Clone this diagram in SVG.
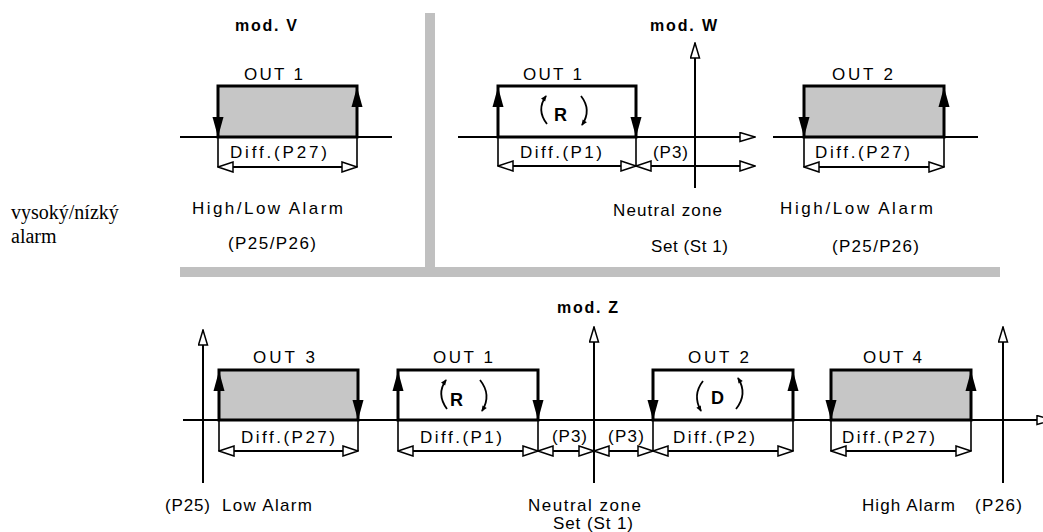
<svg xmlns="http://www.w3.org/2000/svg" width="1043" height="532" viewBox="0 0 1043 532">
<style>
.t{font-family:"Liberation Sans",Arial,sans-serif;font-size:17px;fill:#000}
.m{font-family:"Liberation Sans",Arial,sans-serif;font-weight:bold;font-size:16px;fill:#000}
.rd{font-family:"Liberation Sans",Arial,sans-serif;font-weight:bold;font-size:18px;fill:#000}
.s{font-family:"Liberation Serif","Times New Roman",serif;font-size:20px;fill:#000}
.box{stroke:#000;stroke-width:3}
.g{fill:#c6c6c6}
.w{fill:#fff}
.ax{stroke:#000;stroke-width:2;fill:none}
.axa{stroke:#000;stroke-width:2;fill:none;marker-end:url(#hx)}
.thin{stroke:#000;stroke-width:1.6}
.dim{stroke:#000;stroke-width:2;marker-start:url(#ha);marker-end:url(#ha)}
.fa{fill:#000}
.sep{fill:#c0c0c0}
.cv{stroke:#000;stroke-width:1.8;fill:none;marker-end:url(#ca)}
</style>
<defs>
<marker id="ha" markerUnits="userSpaceOnUse" markerWidth="17" markerHeight="12" viewBox="-1 -1 17 12" refX="15" refY="5" orient="auto-start-reverse"><path d="M0,0 L15,5 L0,10 Z" fill="#fff" stroke="#000" stroke-width="1.5"/></marker>
<marker id="hx" markerUnits="userSpaceOnUse" markerWidth="17" markerHeight="11" viewBox="-1 -1 17 11" refX="15" refY="4.5" orient="auto"><path d="M0,0 L15,4.5 L0,9 Z" fill="#fff" stroke="#000" stroke-width="1.5"/></marker>
<marker id="ca" markerUnits="userSpaceOnUse" markerWidth="8" markerHeight="7" viewBox="-1 -1 8 7" refX="5" refY="2.5" orient="auto"><path d="M0,0 L6,2.5 L0,5 Z" fill="#000"/></marker>
</defs>

<g id="separators">
<rect class="sep" x="425" y="13" width="10" height="264"/>
<rect class="sep" x="180" y="267" width="820" height="10"/>
</g>

<text class="s" x="11" y="219">vysoký/nízký</text>
<text class="s" x="11" y="243">alarm</text>

<g id="connectors">
<!-- mod V -->
<line class="ax" x1="180" y1="137" x2="392" y2="137"/>
<line class="thin" x1="218" y1="137" x2="218" y2="167"/>
<line class="thin" x1="357" y1="137" x2="357" y2="167"/>
<line class="dim" x1="218" y1="167" x2="357" y2="167"/>
<!-- mod W -->
<line class="axa" x1="458" y1="137" x2="755" y2="137"/>
<line class="axa" x1="695" y1="188" x2="695" y2="43"/>
<line class="thin" x1="498" y1="137" x2="498" y2="166"/>
<line class="thin" x1="636" y1="137" x2="636" y2="166"/>
<line class="dim" x1="498" y1="166" x2="636" y2="166"/>
<line class="dim" x1="636" y1="166" x2="755" y2="166"/>
<line class="ax" x1="773" y1="137" x2="978" y2="137"/>
<line class="thin" x1="804" y1="137" x2="804" y2="167"/>
<line class="thin" x1="944" y1="137" x2="944" y2="167"/>
<line class="dim" x1="804" y1="167" x2="944" y2="167"/>
<!-- mod Z -->
<line class="axa" x1="183" y1="420" x2="1052" y2="420"/>
<line class="axa" x1="203" y1="483" x2="203" y2="330"/>
<line class="axa" x1="594" y1="483" x2="594" y2="327"/>
<line class="axa" x1="1003" y1="483" x2="1003" y2="327"/>
<line class="thin" x1="219" y1="420" x2="219" y2="451"/>
<line class="thin" x1="358" y1="420" x2="358" y2="451"/>
<line class="thin" x1="398" y1="420" x2="398" y2="451"/>
<line class="thin" x1="538" y1="420" x2="538" y2="451"/>
<line class="thin" x1="653" y1="420" x2="653" y2="451"/>
<line class="thin" x1="793" y1="420" x2="793" y2="451"/>
<line class="thin" x1="831" y1="420" x2="831" y2="451"/>
<line class="thin" x1="971" y1="420" x2="971" y2="451"/>
<line class="dim" x1="219" y1="451" x2="358" y2="451"/>
<line class="dim" x1="398" y1="451" x2="538" y2="451"/>
<line class="dim" x1="538" y1="451" x2="594" y2="451"/>
<line class="dim" x1="594" y1="451" x2="653" y2="451"/>
<line class="dim" x1="653" y1="451" x2="793" y2="451"/>
<line class="dim" x1="831" y1="451" x2="971" y2="451"/>
</g>

<g id="modV">
<text class="m" x="235" y="31" textLength="62">mod. V</text>
<g id="v-out1">
<rect class="box g" x="218" y="86" width="139" height="51"/>
<polygon class="fa" points="212.5,117 223.5,117 218,137"/>
<polygon class="fa" points="351.5,107 362.5,107 357,87"/>
<text class="t" x="244" y="80" textLength="59">OUT 1</text>
</g>
<text class="t" x="230" y="158" textLength="97">Diff.(P27)</text>
<text class="t" x="192" y="214" textLength="151">High/Low Alarm</text>
<text class="t" x="228" y="249" textLength="88">(P25/P26)</text>
</g>

<g id="modW">
<text class="m" x="650" y="31" textLength="67">mod. W</text>
<g id="w-out1">
<rect class="box w" x="498" y="86" width="138" height="51"/>
<polygon class="fa" points="492.5,107 503.5,107 498,87"/>
<polygon class="fa" points="630.5,117 641.5,117 636,137"/>
<text class="t" x="523" y="80" textLength="59">OUT 1</text>
<text class="rd" x="554" y="121">R</text>
<path class="cv" d="M547,124 Q536,110 546,96"/>
<path class="cv" d="M581,96 Q592,110 582,125"/>
</g>
<text class="t" x="520" y="158" textLength="82">Diff.(P1)</text>
<text class="t" x="653" y="158" textLength="35">(P3)</text>
<text class="t" x="613" y="216" textLength="109">Neutral zone</text>
<text class="t" x="651" y="252" textLength="77">Set (St 1)</text>
<g id="w-out2">
<rect class="box g" x="804" y="86" width="140" height="51"/>
<polygon class="fa" points="798.5,117 809.5,117 804,137"/>
<polygon class="fa" points="938.5,107 949.5,107 944,87"/>
<text class="t" x="832" y="80" textLength="61">OUT 2</text>
</g>
<text class="t" x="815" y="158" textLength="95">Diff.(P27)</text>
<text class="t" x="780" y="214" textLength="153">High/Low Alarm</text>
<text class="t" x="832" y="252" textLength="87">(P25/P26)</text>
</g>

<g id="modZ">
<text class="m" x="557" y="313" textLength="61">mod. Z</text>
<g id="z-out3">
<rect class="box g" x="219" y="370" width="139" height="50"/>
<polygon class="fa" points="213.5,391 224.5,391 219,371"/>
<polygon class="fa" points="352.5,400 363.5,400 358,420"/>
<text class="t" x="253" y="363" textLength="62">OUT 3</text>
</g>
<text class="t" x="241" y="443" textLength="94">Diff.(P27)</text>
<g id="z-out1">
<rect class="box w" x="398" y="370" width="140" height="50"/>
<polygon class="fa" points="392.5,391 403.5,391 398,371"/>
<polygon class="fa" points="532.5,400 543.5,400 538,420"/>
<text class="t" x="433" y="363" textLength="60">OUT 1</text>
<text class="rd" x="450" y="406">R</text>
<path class="cv" d="M447,409 Q436,394 446,380"/>
<path class="cv" d="M480,380 Q492,395 482,411"/>
</g>
<text class="t" x="420" y="443" textLength="82">Diff.(P1)</text>
<text class="t" x="552" y="442" textLength="35">(P3)</text>
<text class="t" x="608" y="442" textLength="36">(P3)</text>
<g id="z-out2">
<rect class="box w" x="653" y="370" width="140" height="50"/>
<polygon class="fa" points="647.5,400 658.5,400 653,420"/>
<polygon class="fa" points="787.5,391 798.5,391 793,371"/>
<text class="t" x="688" y="363" textLength="61">OUT 2</text>
<text class="rd" x="711" y="404">D</text>
<path class="cv" d="M703,381 Q692,395 701,411"/>
<path class="cv" d="M736,409 Q748,394 738,378"/>
</g>
<text class="t" x="673" y="443" textLength="82">Diff.(P2)</text>
<g id="z-out4">
<rect class="box g" x="831" y="370" width="140" height="50"/>
<polygon class="fa" points="825.5,400 836.5,400 831,420"/>
<polygon class="fa" points="965.5,391 976.5,391 971,371"/>
<text class="t" x="863" y="363" textLength="59">OUT 4</text>
</g>
<text class="t" x="842" y="443" textLength="93">Diff.(P27)</text>
<text class="t" x="165" y="511" textLength="45">(P25)</text>
<text class="t" x="222" y="511" textLength="90">Low Alarm</text>
<text class="t" x="528" y="511" textLength="113">Neutral  zone</text>
<text class="t" x="553" y="529" textLength="80">Set (St 1)</text>
<text class="t" x="862" y="511" textLength="93">High  Alarm</text>
<text class="t" x="975" y="511" textLength="47">(P26)</text>
</g>
</svg>
